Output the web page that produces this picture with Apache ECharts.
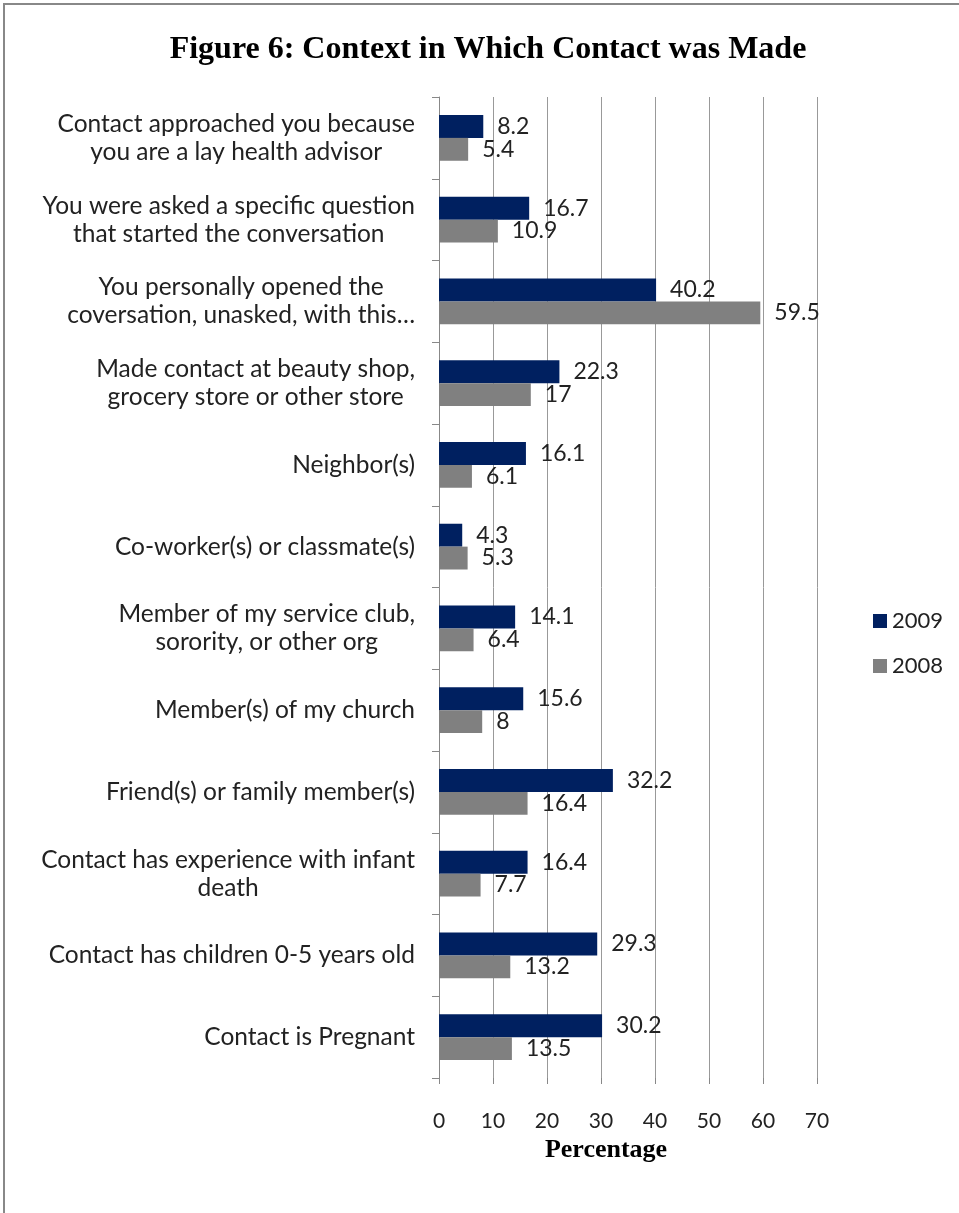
<!DOCTYPE html>
<html>
<head>
<meta charset="utf-8">
<title>Figure 6</title>
<script src="https://cdn.jsdelivr.net/npm/echarts@6/dist/echarts.min.js"></script>
<style>
  html, body { margin: 0; padding: 0; background: #fff; }
  #main { width: 959px; height: 1213px; }
  #frame { position: absolute; left: 3px; top: 3px; right: 0; bottom: 0;
           border-left: 2px solid #888; border-top: 2px solid #888; pointer-events: none; }
</style>
</head>
<body>
<div id="main"></div>
<div id="frame"></div>
<script>
// categories, top to bottom
var categories = [
    'Contact approached you because\nyou are a lay health advisor',
    'You were asked a specific question\nthat started the conversation',
    'You personally opened the\ncoversation, unasked, with this\u2026',
    'Made contact at beauty shop,\ngrocery store or other store',
    'Neighbor(s)',
    'Co-worker(s) or classmate(s)',
    'Member of my service club,\nsorority, or other org',
    'Member(s) of my church',
    'Friend(s) or family member(s)',
    'Contact has experience with infant\ndeath',
    'Contact has children 0-5 years old',
    'Contact is Pregnant'
];
var values2009 = [8.2, 16.7, 40.2, 22.3, 16.1, 4.3, 14.1, 15.6, 32.2, 16.4, 29.3, 30.2];
var values2008 = [5.4, 10.9, 59.5, 17, 6.1, 5.3, 6.4, 8, 16.4, 7.7, 13.2, 13.5];
var xTicks = [0, 10, 20, 30, 40, 50, 60, 70];

var sansFont = 'Lato';
var serifFont = '"Liberation Serif", "Times New Roman", serif';

let myChart = echarts.init(document.getElementById('main'));

function barLabel() {
    return {
        show: true,
        position: 'right',
        distance: 14,
        fontFamily: sansFont,
        fontSize: 23,
        color: '#222'
    };
}

myChart.setOption({
    animation: false,
    title: [
        {
            text: 'Figure 6: Context in Which Contact was Made',
            left: 483,
            top: 29,
            textAlign: 'center',
            textStyle: { fontFamily: serifFont, fontWeight: 'bold', fontSize: 32, color: '#000' }
        },
        {
            text: 'Percentage',
            left: 601,
            top: 1132,
            textAlign: 'center',
            textStyle: { fontFamily: serifFont, fontWeight: 'bold', fontSize: 26, color: '#000' }
        }
    ],
    legend: {
        orient: 'vertical',
        left: 873,
        top: 610,
        padding: 0,
        itemWidth: 14,
        itemHeight: 14,
        itemGap: 23,
        icon: 'rect',
        textStyle: { fontFamily: sansFont, fontSize: 22, color: '#222' },
        data: ['2009', '2008']
    },
    grid: {
        left: 439,
        right: 142,
        top: 97,
        bottom: 135,
        containLabel: false
    },
    xAxis: {
        type: 'value',
        min: 0,
        max: 70,
        interval: 10,
        axisLine: { show: false },
        axisTick: { show: true, length: 6, lineStyle: { color: '#888' } },
        axisLabel: {
            margin: 33,
            fontFamily: sansFont,
            fontSize: 21,
            color: '#222',
            formatter: function (v) { return xTicks.indexOf(v) > -1 ? String(v) : ''; }
        },
        splitLine: { show: true, lineStyle: { color: '#999', width: 1 } }
    },
    yAxis: {
        type: 'category',
        inverse: true,
        data: categories,
        axisLine: { show: true, lineStyle: { color: '#888' } },
        axisTick: { show: true, length: 7, lineStyle: { color: '#888' } },
        axisLabel: {
            margin: 24,
            interval: 0,
            fontFamily: sansFont,
            fontSize: 24.5,
            color: '#222',
            formatter: function (v) {
                return v.split('\n').map(function (l) { return '{c|' + l + '}'; }).join('\n');
            },
            rich: {
                c: { align: 'center', fontFamily: sansFont, fontSize: 24.5, lineHeight: 28, color: '#222' }
            }
        }
    },
    series: [
        {
            name: '2009',
            type: 'bar',
            data: values2009,
            barGap: '0%',
            barCategoryGap: '44%',
            itemStyle: { color: '#002060' },
            label: barLabel()
        },
        {
            name: '2008',
            type: 'bar',
            data: values2008,
            barGap: '0%',
            barCategoryGap: '44%',
            itemStyle: { color: '#808080' },
            label: barLabel()
        }
    ]
});
</script>
</body>
</html>
